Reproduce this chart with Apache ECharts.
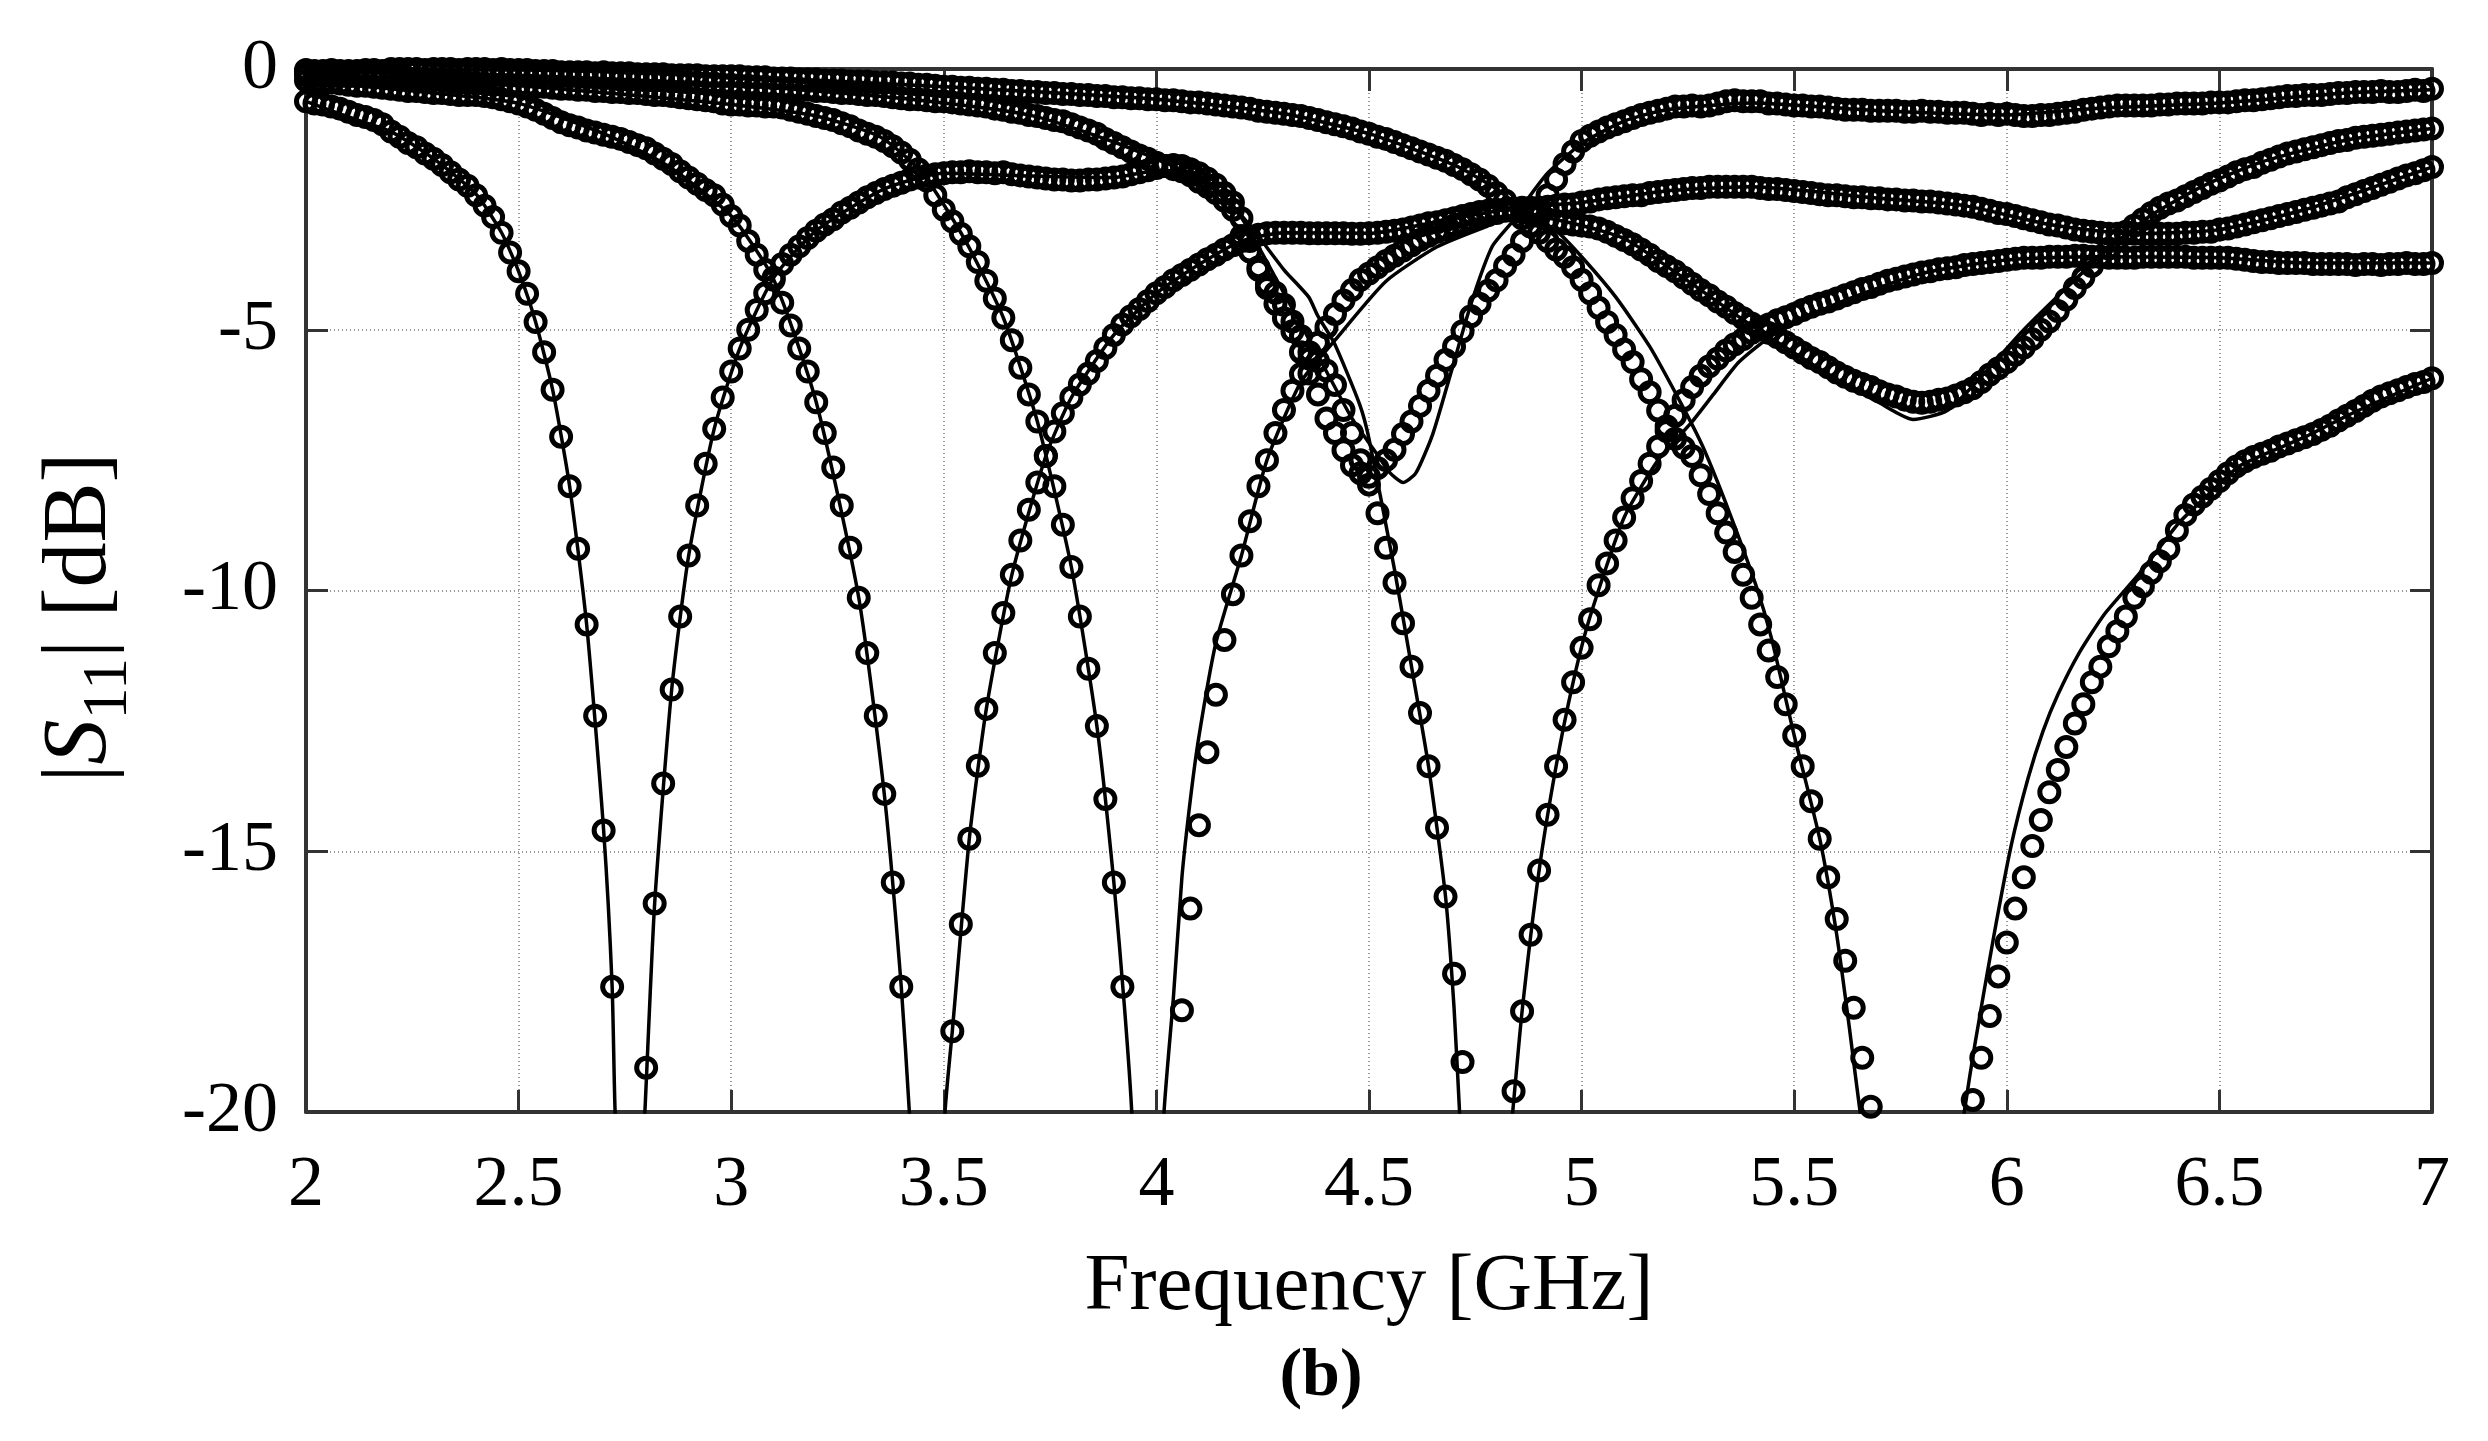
<!DOCTYPE html>
<html>
<head>
<meta charset="utf-8">
<title>|S11| vs frequency</title>
<script src="https://cdn.jsdelivr.net/npm/echarts@6/dist/echarts.min.js"></script>
<style>
  html, body { margin: 0; padding: 0; background: #fff; }
  #chart { width: 2488px; height: 1441px; }
</style>
</head>
<body>
<div id="chart"></div>
<script>
// frequency grid of the measured points [GHz]
const freq = [
  2.00,2.02,2.04,2.06,2.08,2.10,2.12,2.14,2.16,2.18,
  2.20,2.22,2.24,2.26,2.28,2.30,2.32,2.34,2.36,2.38,
  2.40,2.42,2.44,2.46,2.48,2.50,2.52,2.54,2.56,2.58,
  2.60,2.62,2.64,2.66,2.68,2.70,2.72,2.74,2.76,2.78,
  2.80,2.82,2.84,2.86,2.88,2.90,2.92,2.94,2.96,2.98,
  3.00,3.02,3.04,3.06,3.08,3.10,3.12,3.14,3.16,3.18,
  3.20,3.22,3.24,3.26,3.28,3.30,3.32,3.34,3.36,3.38,
  3.40,3.42,3.44,3.46,3.48,3.50,3.52,3.54,3.56,3.58,
  3.60,3.62,3.64,3.66,3.68,3.70,3.72,3.74,3.76,3.78,
  3.80,3.82,3.84,3.86,3.88,3.90,3.92,3.94,3.96,3.98,
  4.00,4.02,4.04,4.06,4.08,4.10,4.12,4.14,4.16,4.18,
  4.20,4.22,4.24,4.26,4.28,4.30,4.32,4.34,4.36,4.38,
  4.40,4.42,4.44,4.46,4.48,4.50,4.52,4.54,4.56,4.58,
  4.60,4.62,4.64,4.66,4.68,4.70,4.72,4.74,4.76,4.78,
  4.80,4.82,4.84,4.86,4.88,4.90,4.92,4.94,4.96,4.98,
  5.00,5.02,5.04,5.06,5.08,5.10,5.12,5.14,5.16,5.18,
  5.20,5.22,5.24,5.26,5.28,5.30,5.32,5.34,5.36,5.38,
  5.40,5.42,5.44,5.46,5.48,5.50,5.52,5.54,5.56,5.58,
  5.60,5.62,5.64,5.66,5.68,5.70,5.72,5.74,5.76,5.78,
  5.80,5.82,5.84,5.86,5.88,5.90,5.92,5.94,5.96,5.98,
  6.00,6.02,6.04,6.06,6.08,6.10,6.12,6.14,6.16,6.18,
  6.20,6.22,6.24,6.26,6.28,6.30,6.32,6.34,6.36,6.38,
  6.40,6.42,6.44,6.46,6.48,6.50,6.52,6.54,6.56,6.58,
  6.60,6.62,6.64,6.66,6.68,6.70,6.72,6.74,6.76,6.78,
  6.80,6.82,6.84,6.86,6.88,6.90,6.92,6.94,6.96,6.98,
  7.00
];

// measured |S11| [dB], null = below the -20 dB floor
const measured1 = [
  -0.62,-0.66,-0.68,-0.72,-0.76,-0.82,-0.88,-0.92,-0.98,-1.06,
  -1.2,-1.3,-1.42,-1.5,-1.62,-1.72,-1.84,-1.98,-2.12,-2.24,
  -2.42,-2.62,-2.84,-3.14,-3.52,-3.88,-4.31,-4.85,-5.43,-6.15,
  -7.05,-8.0,-9.2,-10.65,-12.4,-14.6,-17.6,null,null,null,
  -19.15,-16.0,-13.7,-11.9,-10.5,-9.33,-8.37,-7.57,-6.9,-6.3,
  -5.8,-5.36,-5.0,-4.62,-4.3,-4.0,-3.74,-3.56,-3.4,-3.24,
  -3.1,-2.98,-2.88,-2.75,-2.66,-2.56,-2.46,-2.38,-2.3,-2.24,
  -2.18,-2.12,-2.08,-2.04,-2.02,-2.0,-1.98,-1.98,-1.96,-1.98,
  -1.98,-2.0,-1.98,-2.02,-2.04,-2.06,-2.08,-2.1,-2.12,-2.12,
  -2.14,-2.14,-2.12,-2.12,-2.1,-2.08,-2.06,-2.02,-1.98,-1.94,
  -1.9,-1.86,-1.84,-1.86,-1.92,-2.0,-2.1,-2.22,-2.38,-2.56,
  -2.86,-3.3,-3.8,-4.2,-4.5,-4.78,-5.03,-5.43,-5.84,-6.24,
  -6.7,-6.98,-7.31,-7.6,-7.75,-7.82,-7.65,-7.5,-7.3,-7.0,
  -6.76,-6.46,-6.17,-5.88,-5.58,-5.32,-5.03,-4.74,-4.5,-4.25,
  -4.05,-3.78,-3.56,-3.3,-3.0,-2.72,-2.42,-2.12,-1.82,-1.58,
  -1.38,-1.28,-1.2,-1.12,-1.06,-1.0,-0.94,-0.88,-0.84,-0.8,
  -0.76,-0.72,-0.72,-0.7,-0.72,-0.7,-0.66,-0.62,-0.6,-0.62,
  -0.62,-0.62,-0.66,-0.66,-0.68,-0.7,-0.7,-0.72,-0.72,-0.74,
  -0.76,-0.78,-0.78,-0.78,-0.8,-0.8,-0.8,-0.8,-0.82,-0.82,
  -0.8,-0.82,-0.82,-0.84,-0.84,-0.84,-0.86,-0.88,-0.86,-0.88,
  -0.86,-0.88,-0.9,-0.9,-0.88,-0.88,-0.86,-0.84,-0.82,-0.78,
  -0.76,-0.74,-0.72,-0.7,-0.7,-0.7,-0.7,-0.7,-0.68,-0.68,
  -0.66,-0.66,-0.66,-0.66,-0.64,-0.64,-0.64,-0.62,-0.6,-0.6,
  -0.58,-0.56,-0.54,-0.52,-0.52,-0.5,-0.5,-0.5,-0.48,-0.46,
  -0.46,-0.44,-0.44,-0.44,-0.42,-0.44,-0.44,-0.42,-0.4,-0.42,
  -0.38
];
const measured2 = [
  -0.22,-0.24,-0.26,-0.26,-0.28,-0.3,-0.32,-0.32,-0.34,-0.36,
  -0.38,-0.4,-0.42,-0.42,-0.44,-0.46,-0.46,-0.48,-0.5,-0.5,
  -0.5,-0.52,-0.54,-0.58,-0.62,-0.66,-0.72,-0.78,-0.86,-0.94,
  -1.02,-1.08,-1.12,-1.18,-1.22,-1.26,-1.3,-1.34,-1.4,-1.46,
  -1.52,-1.62,-1.72,-1.82,-1.96,-2.08,-2.2,-2.32,-2.42,-2.6,
  -2.82,-3.0,-3.3,-3.56,-3.85,-4.04,-4.48,-4.92,-5.36,-5.8,
  -6.39,-6.98,-7.64,-8.37,-9.18,-10.14,-11.2,-12.4,-13.9,-15.6,
  -17.6,null,null,null,null,null,-18.45,-16.4,-14.76,-13.36,
  -12.27,-11.2,-10.43,-9.7,-9.04,-8.45,-7.93,-7.42,-6.95,-6.6,
  -6.3,-6.05,-5.84,-5.6,-5.35,-5.1,-4.9,-4.74,-4.6,-4.45,
  -4.3,-4.18,-4.05,-3.95,-3.85,-3.75,-3.65,-3.56,-3.46,-3.38,
  -3.3,-3.24,-3.18,-3.15,-3.14,-3.14,-3.14,-3.14,-3.15,-3.15,
  -3.15,-3.15,-3.15,-3.16,-3.16,-3.15,-3.14,-3.12,-3.1,-3.08,
  -3.04,-3.0,-2.96,-2.94,-2.9,-2.86,-2.82,-2.78,-2.74,-2.72,
  -2.7,-2.7,-2.68,-2.66,-2.66,-2.66,-2.64,-2.62,-2.6,-2.6,
  -2.56,-2.54,-2.5,-2.48,-2.46,-2.44,-2.42,-2.42,-2.38,-2.36,
  -2.34,-2.32,-2.3,-2.28,-2.28,-2.26,-2.26,-2.26,-2.26,-2.26,
  -2.26,-2.28,-2.3,-2.3,-2.32,-2.34,-2.36,-2.38,-2.4,-2.42,
  -2.42,-2.44,-2.46,-2.46,-2.48,-2.48,-2.5,-2.5,-2.52,-2.52,
  -2.54,-2.54,-2.56,-2.58,-2.6,-2.62,-2.64,-2.68,-2.72,-2.76,
  -2.78,-2.82,-2.86,-2.9,-2.94,-2.98,-3.0,-3.04,-3.08,-3.1,
  -3.12,-3.14,-3.16,-3.16,-3.16,-3.16,-3.16,-3.16,-3.16,-3.16,
  -3.16,-3.14,-3.14,-3.12,-3.12,-3.08,-3.06,-3.02,-2.98,-2.94,
  -2.9,-2.86,-2.82,-2.78,-2.74,-2.7,-2.66,-2.62,-2.58,-2.54,
  -2.46,-2.4,-2.34,-2.28,-2.22,-2.16,-2.1,-2.04,-2.0,-1.94,
  -1.88
];
const measured3 = [
  -0.12,-0.12,-0.14,-0.14,-0.14,-0.14,-0.14,-0.14,-0.16,-0.14,
  -0.16,-0.16,-0.18,-0.18,-0.2,-0.2,-0.22,-0.24,-0.26,-0.26,
  -0.28,-0.28,-0.3,-0.3,-0.32,-0.32,-0.32,-0.34,-0.34,-0.36,
  -0.38,-0.38,-0.4,-0.4,-0.42,-0.42,-0.44,-0.44,-0.46,-0.46,
  -0.48,-0.5,-0.5,-0.52,-0.54,-0.56,-0.58,-0.6,-0.62,-0.66,
  -0.68,-0.68,-0.7,-0.7,-0.72,-0.72,-0.74,-0.78,-0.82,-0.86,
  -0.9,-0.94,-0.98,-1.04,-1.1,-1.18,-1.24,-1.3,-1.38,-1.48,
  -1.6,-1.74,-1.92,-2.14,-2.42,-2.7,-2.92,-3.16,-3.4,-3.7,
  -4.06,-4.4,-4.77,-5.2,-5.73,-6.24,-6.76,-7.42,-8.0,-8.74,
  -9.55,-10.5,-11.5,-12.6,-14.0,-15.6,-17.6,null,null,null,
  null,null,null,-18.05,-16.1,-14.5,-13.1,-12.0,-10.95,-10.07,
  -9.33,-8.67,-8.0,-7.5,-6.98,-6.54,-6.17,-5.85,-5.55,-5.25,
  -4.95,-4.7,-4.44,-4.24,-4.04,-3.92,-3.8,-3.68,-3.58,-3.48,
  -3.38,-3.28,-3.2,-3.12,-3.08,-3.0,-2.96,-2.9,-2.84,-2.8,
  -2.76,-2.72,-2.72,-2.74,-2.78,-2.82,-2.88,-2.92,-2.96,-2.98,
  -3.0,-3.02,-3.06,-3.12,-3.2,-3.28,-3.36,-3.46,-3.56,-3.68,
  -3.78,-3.88,-4.0,-4.12,-4.24,-4.34,-4.46,-4.56,-4.68,-4.78,
  -4.88,-4.96,-5.06,-5.14,-5.24,-5.34,-5.44,-5.54,-5.62,-5.72,
  -5.82,-5.9,-5.98,-6.04,-6.1,-6.18,-6.24,-6.28,-6.34,-6.38,
  -6.4,-6.38,-6.34,-6.32,-6.26,-6.2,-6.12,-6.0,-5.86,-5.74,
  -5.62,-5.48,-5.34,-5.18,-5.0,-4.84,-4.64,-4.42,-4.2,-4.0,
  -3.78,-3.6,-3.44,-3.28,-3.12,-3.0,-2.88,-2.76,-2.66,-2.58,
  -2.52,-2.44,-2.36,-2.28,-2.2,-2.14,-2.06,-1.98,-1.92,-1.88,
  -1.8,-1.74,-1.68,-1.62,-1.58,-1.54,-1.5,-1.46,-1.42,-1.38,
  -1.36,-1.32,-1.3,-1.28,-1.26,-1.24,-1.22,-1.2,-1.18,-1.16,
  -1.14
];
const measured4 = [
  -0.06,-0.08,-0.08,-0.06,-0.08,-0.08,-0.06,-0.06,-0.08,-0.08,
  -0.06,-0.06,-0.04,-0.04,-0.06,-0.06,-0.06,-0.08,-0.06,-0.06,
  -0.08,-0.08,-0.08,-0.1,-0.1,-0.1,-0.1,-0.12,-0.12,-0.12,
  -0.14,-0.14,-0.14,-0.16,-0.16,-0.18,-0.18,-0.2,-0.2,-0.2,
  -0.22,-0.22,-0.22,-0.24,-0.24,-0.26,-0.26,-0.28,-0.28,-0.3,
  -0.3,-0.32,-0.32,-0.34,-0.34,-0.36,-0.36,-0.38,-0.38,-0.4,
  -0.42,-0.42,-0.44,-0.46,-0.46,-0.48,-0.5,-0.5,-0.52,-0.54,
  -0.56,-0.58,-0.58,-0.6,-0.62,-0.62,-0.64,-0.66,-0.68,-0.7,
  -0.72,-0.76,-0.78,-0.82,-0.84,-0.88,-0.9,-0.94,-0.98,-1.0,
  -1.06,-1.12,-1.18,-1.24,-1.34,-1.42,-1.5,-1.58,-1.66,-1.72,
  -1.8,-1.86,-1.92,-1.96,-2.04,-2.16,-2.26,-2.38,-2.52,-2.7,
  -3.2,-3.5,-3.85,-4.12,-4.29,-4.52,-4.84,-5.12,-5.43,-5.6,
  -5.78,-6.06,-6.54,-6.98,-7.5,-7.97,-8.52,-9.18,-9.85,-10.63,
  -11.46,-12.35,-13.37,-14.55,-15.87,-17.35,-19.04,null,null,null,
  null,null,-19.6,-18.07,-16.6,-15.37,-14.3,-13.37,-12.48,-11.76,
  -11.1,-10.55,-9.9,-9.48,-9.04,-8.6,-8.23,-7.9,-7.57,-7.24,
  -6.94,-6.65,-6.35,-6.1,-5.88,-5.7,-5.55,-5.4,-5.28,-5.18,
  -5.06,-4.98,-4.9,-4.82,-4.76,-4.7,-4.62,-4.56,-4.5,-4.46,
  -4.4,-4.34,-4.28,-4.22,-4.18,-4.12,-4.06,-4.02,-3.98,-3.94,
  -3.9,-3.88,-3.84,-3.82,-3.8,-3.76,-3.74,-3.72,-3.7,-3.68,
  -3.66,-3.64,-3.62,-3.62,-3.62,-3.6,-3.6,-3.6,-3.58,-3.58,
  -3.6,-3.6,-3.62,-3.62,-3.62,-3.62,-3.6,-3.6,-3.6,-3.6,
  -3.6,-3.6,-3.62,-3.62,-3.62,-3.62,-3.62,-3.64,-3.66,-3.68,
  -3.7,-3.7,-3.72,-3.72,-3.72,-3.72,-3.74,-3.74,-3.74,-3.74,
  -3.74,-3.76,-3.74,-3.74,-3.76,-3.74,-3.74,-3.72,-3.74,-3.74,
  -3.72
];
const measured5 = [
  -0.02,-0.04,-0.04,-0.02,-0.04,-0.04,-0.04,-0.02,-0.02,-0.04,
  0,0,0,0,-0.02,0,0,0,-0.02,0,
  0,0,-0.02,0,-0.02,-0.02,-0.02,-0.04,-0.04,-0.04,
  -0.06,-0.06,-0.06,-0.06,-0.08,-0.06,-0.08,-0.08,-0.08,-0.1,
  -0.1,-0.1,-0.1,-0.12,-0.12,-0.12,-0.12,-0.14,-0.14,-0.14,
  -0.14,-0.14,-0.16,-0.16,-0.16,-0.18,-0.18,-0.18,-0.2,-0.2,
  -0.2,-0.22,-0.22,-0.22,-0.24,-0.24,-0.24,-0.26,-0.26,-0.26,
  -0.28,-0.28,-0.3,-0.3,-0.32,-0.34,-0.34,-0.36,-0.36,-0.38,
  -0.38,-0.4,-0.4,-0.42,-0.42,-0.44,-0.44,-0.46,-0.46,-0.48,
  -0.48,-0.5,-0.5,-0.52,-0.52,-0.54,-0.54,-0.56,-0.56,-0.58,
  -0.58,-0.6,-0.6,-0.62,-0.64,-0.64,-0.66,-0.68,-0.7,-0.72,
  -0.74,-0.76,-0.8,-0.82,-0.84,-0.86,-0.88,-0.9,-0.94,-0.98,
  -1.02,-1.06,-1.1,-1.14,-1.2,-1.24,-1.3,-1.34,-1.4,-1.46,
  -1.52,-1.58,-1.64,-1.7,-1.76,-1.84,-1.92,-2.02,-2.12,-2.24,
  -2.38,-2.52,-2.68,-2.86,-3.02,-3.14,-3.3,-3.46,-3.6,-3.8,
  -4.04,-4.3,-4.58,-4.85,-5.1,-5.38,-5.62,-5.95,-6.2,-6.55,
  -6.85,-7.09,-7.26,-7.42,-7.79,-8.15,-8.52,-8.89,-9.26,-9.7,
  -10.14,-10.65,-11.15,-11.66,-12.18,-12.78,-13.37,-14.04,-14.76,-15.5,
  -16.3,-17.1,-18.0,-18.96,-19.9,null,null,null,null,null,
  null,null,null,null,null,null,-19.77,-18.96,-18.16,-17.4,
  -16.75,-16.1,-15.5,-14.9,-14.4,-13.87,-13.44,-13.0,-12.55,-12.18,
  -11.76,-11.46,-11.07,-10.78,-10.5,-10.14,-9.92,-9.66,-9.44,-9.2,
  -8.85,-8.55,-8.35,-8.2,-8.05,-7.9,-7.75,-7.62,-7.52,-7.44,
  -7.38,-7.32,-7.24,-7.18,-7.12,-7.06,-7.0,-6.92,-6.84,-6.74,
  -6.65,-6.56,-6.46,-6.36,-6.28,-6.22,-6.16,-6.1,-6.04,-6.0,
  -5.93
];

// simulated curves, read as (frequency, dB) pairs; the notch points run below the axis
const simFreq1 = [2,2.1,2.2,2.3,2.4,2.46,2.5,2.54,2.58,2.62,2.66,2.7,2.72,2.727,2.76,2.797,2.82,2.86,2.9,2.96,3.02,3.1,3.2,3.36,3.5,3.7,3.9,4.0,4.06,4.12,4.2,4.3,4.4,4.46,4.52,4.55,4.58,4.61,4.65,4.69,4.74,4.79,4.84,4.87,4.92,5.0,5.1,5.2,5.4,5.7,6.0,6.2,6.5,6.8,7];
const simVals1 = [-0.62,-0.92,-1.2,-1.72,-2.4,-3.14,-3.88,-4.85,-6.15,-8,-10.65,-14.6,-17.6,-20,-26,-20,-16,-11.9,-9.33,-6.9,-5.36,-4,-3.1,-2.3,-2,-2.05,-2.08,-1.95,-1.95,-2.2,-2.85,-4.3,-5.8,-6.7,-7.4,-7.75,-7.93,-7.75,-7,-5.9,-4.5,-3.4,-2.9,-2.53,-2,-1.43,-1,-0.78,-0.65,-0.8,-0.88,-0.76,-0.65,-0.46,-0.4];
const simFreq2 = [2,2.3,2.5,2.7,2.85,3,3.1,3.2,3.3,3.36,3.4,3.419,3.47,3.503,3.52,3.56,3.6,3.66,3.74,3.8,3.9,4,4.1,4.2,4.3,4.5,4.7,4.85,5,5.2,5.4,5.7,5.9,6.1,6.3,6.5,6.7,6.85,7];
const simVals2 = [-0.22,-0.46,-0.66,-1.24,-1.85,-2.82,-4.04,-6.39,-10.14,-13.9,-17.6,-20,-27,-20,-18.45,-14.76,-12.27,-9.7,-7.42,-6.3,-5.1,-4.3,-3.75,-3.3,-3.14,-3.15,-2.86,-2.66,-2.56,-2.34,-2.26,-2.48,-2.62,-2.98,-3.16,-3.08,-2.7,-2.3,-1.88];
const simFreq3 = [2,2.5,3,3.2,3.35,3.45,3.55,3.64,3.72,3.8,3.86,3.9,3.925,3.942,3.98,4.018,4.04,4.06,4.08,4.1,4.14,4.2,4.26,4.34,4.42,4.54,4.66,4.77,4.86,5,5.1,5.2,5.4,5.6,5.7,5.78,5.86,5.94,6.04,6.14,6.24,6.34,6.46,6.6,6.8,7];
const simVals3 = [-0.12,-0.32,-0.68,-0.9,-1.3,-2,-3.28,-4.77,-6.76,-9.55,-12.6,-15.6,-18,-20,-27,-20,-17.8,-15.5,-14,-12.8,-11,-9.33,-7.5,-6,-5.2,-4.07,-3.41,-3.04,-2.78,-3,-3.25,-3.78,-4.92,-5.95,-6.4,-6.72,-6.55,-5.9,-5,-4.2,-3.44,-2.8,-2.25,-1.78,-1.36,-1.14];
const simFreq4 = [2,2.5,3,3.4,3.7,3.9,4.05,4.14,4.22,4.3,4.358,4.38,4.418,4.478,4.5,4.56,4.6,4.64,4.68,4.7,4.713,4.76,4.838,4.86,4.9,4.94,4.98,5.02,5.1,5.18,5.26,5.31,5.37,5.45,5.6,5.8,6,6.2,6.5,6.7,7];
const simVals4 = [-0.06,-0.12,-0.3,-0.56,-0.88,-1.4,-1.9,-2.3,-3,-3.85,-4.37,-4.74,-5.25,-6.43,-7.09,-9.6,-11.46,-13.37,-15.87,-18,-20,-27,-20,-18.07,-15.37,-13.37,-11.76,-10.5,-8.6,-7.5,-6.76,-6.24,-5.62,-5.1,-4.5,-3.92,-3.66,-3.6,-3.62,-3.72,-3.72];
const simFreq5 = [2,2.5,3,3.5,4,4.3,4.5,4.7,4.8,4.88,4.94,5,5.08,5.16,5.235,5.285,5.347,5.41,5.446,5.5,5.56,5.6,5.63,5.655,5.78,5.9,5.925,5.97,6.01,6.05,6.085,6.12,6.17,6.23,6.306,6.355,6.405,6.47,6.55,6.7,6.8,6.9,7];
const simVals5 = [-0.02,-0.02,-0.14,-0.34,-0.58,-0.86,-1.24,-1.84,-2.3,-2.8,-3.1,-3.6,-4.37,-5.32,-6.43,-7.24,-8.49,-9.9,-10.9,-12.78,-14.76,-16.6,-18.4,-20,-27,-20,-18.7,-16.6,-14.9,-13.6,-12.7,-12.0,-11.2,-10.45,-9.73,-9.22,-8.7,-8.19,-7.6,-7.06,-6.65,-6.28,-5.93];

const measuredSets = [measured1, measured2, measured3, measured4, measured5];
const simSets = [[simFreq1, simVals1], [simFreq2, simVals2], [simFreq3, simVals3], [simFreq4, simVals4], [simFreq5, simVals5]];

const FONT = '"Liberation Serif", "Times New Roman", serif';
const INK = '#000';
const FRAME = '#333';

const series = [];
simSets.forEach(([xs, ys], i) => {
  series.push({
    name: 'sim' + (i + 1),
    type: 'line',
    data: xs.map((x, k) => [x, ys[k]]),
    smooth: 0.2,
    symbol: 'none',
    clip: true,
    lineStyle: { width: 3.5, color: INK },
    z: 3,
  });
});
measuredSets.forEach((vals, i) => {
  series.push({
    name: 'meas' + (i + 1),
    type: 'scatter',
    data: freq.map((f, k) => [f, vals[k]]).filter(p => p[1] !== null),
    symbol: 'circle',
    symbolSize: 19,
    clip: false,
    itemStyle: { color: 'rgba(0,0,0,0)', borderColor: INK, borderWidth: 5, opacity: 1 },
    z: 4,
  });
});

function inwardAxis(extra) {
  return Object.assign({
    type: 'value',
    axisLine: { show: true, onZero: false, lineStyle: { color: FRAME, width: 4 } },
    axisTick: { show: true, inside: true, length: 22, lineStyle: { color: FRAME, width: 3 } },
    axisLabel: { show: false },
    splitLine: { show: false },
  }, extra);
}

const chart = echarts.init(document.getElementById('chart'), null, { renderer: 'canvas' });
chart.setOption({
  animation: false,
  backgroundColor: '#fff',
  title: {
    text: '(b)',
    left: 1316,
    top: 1338,
    textAlign: 'center',
    textStyle: { fontFamily: FONT, fontSize: 68, fontWeight: 'bold', color: INK },
  },
  grid: { left: 306, right: 56, top: 69, bottom: 329, containLabel: false },
  xAxis: [
    inwardAxis({
      min: 2, max: 7, interval: 0.5,
      position: 'bottom',
      name: 'Frequency [GHz]',
      nameLocation: 'middle',
      nameGap: 135,
      nameTextStyle: { fontFamily: FONT, fontSize: 81, color: INK },
      axisLabel: { show: true, margin: 38, fontFamily: FONT, fontSize: 72, color: INK },
      splitLine: { show: true, lineStyle: { type: [1, 3], color: '#777', width: 1.5 } },
    }),
    inwardAxis({ min: 2, max: 7, interval: 0.5, position: 'top' }),
  ],
  yAxis: [
    inwardAxis({
      min: -20, max: 0, interval: 5,
      position: 'left',
      name: '|{i|S}{s|11}| [dB]',
      nameLocation: 'middle',
      nameGap: 165,
      nameRotate: 90,
      nameTextStyle: {
        fontFamily: FONT, fontSize: 90, color: INK,
        padding: [0, 54, 0, 0],
        rich: {
          i: { fontFamily: FONT, fontSize: 90, fontStyle: 'italic', color: INK },
          s: { fontFamily: FONT, fontSize: 64, color: INK, padding: [56, 0, 0, 0] },
        },
      },
      axisLabel: { show: true, margin: 28, padding: [6, 0, 0, 0], fontFamily: FONT, fontSize: 72, color: INK },
      splitLine: { show: true, lineStyle: { type: [1, 3], color: '#777', width: 1.5 } },
    }),
    inwardAxis({ min: -20, max: 0, interval: 5, position: 'right' }),
  ],
  series: series,
});
</script>
</body>
</html>
